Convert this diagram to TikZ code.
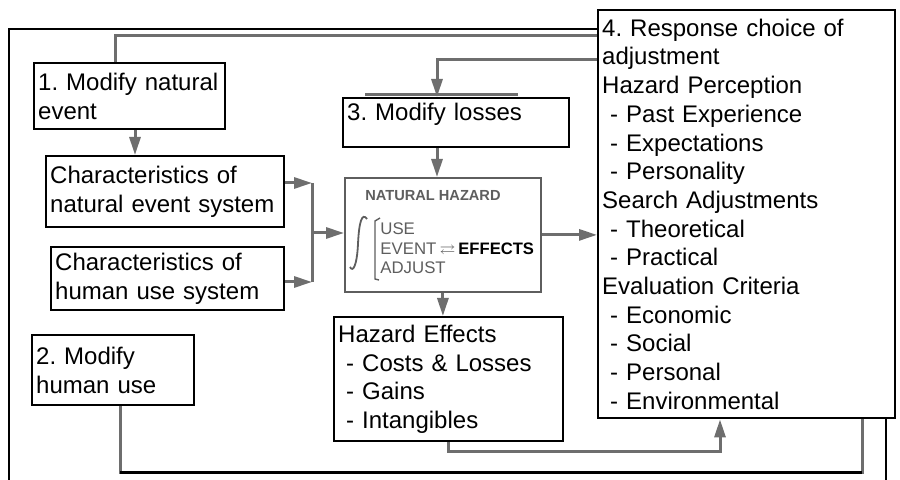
\documentclass[tikz,border=0pt]{standalone}
\usepackage{amssymb}
\usepackage{fontspec}
\setmainfont{Liberation Sans}
\usetikzlibrary{arrows.meta,calc}
\definecolor{linkgray}{HTML}{6E6E6E}
\definecolor{hazgray}{HTML}{5E5E5E}
\newcommand\boxfont{\fontsize{12}{14.35}\selectfont\frenchspacing\hyphenpenalty=10000\relax}
\tikzset{
  box/.style={draw, line width=1.2pt, fill=white, anchor=north west, align=left,
    inner xsep=2pt, inner ysep=1.5pt, font=\boxfont},
  link/.style={draw=linkgray, line width=1.5pt},
  arrow/.style={link, -{Triangle[length=9pt,width=5.5pt]}},
  frame/.style={line width=1pt},
  haz/.style={text=hazgray, inner sep=0pt, font=\fontsize{8.4}{9.5}\selectfont}
}
\begin{document}
\begin{tikzpicture}[x=0.5pt,y=-0.5pt]
\useasboundingbox (0,0) rectangle (900,480);
% outer frame
\draw[frame] (9,480) -- (9,29) -- (886,29) -- (886,480);
% boxes
\node[box, text width=91.5pt, minimum height=33pt] (m1) at (33,62) {1. Modify natural\\event};
\node[box, text width=115pt, minimum height=35.5pt] (cn) at (45,155) {Characteristics of\\natural event system};
\node[box, text width=112.5pt, minimum height=31.5pt] (ch) at (50,246) {Characteristics of\\human use system};
\node[box, text width=77pt, minimum height=35pt] (m2) at (31,334) {2. Modify\\human use};
\node[box, text width=109pt, text height=8.8pt, text depth=11.3pt, inner ysep=2.2pt] (m3) at (342,97) {3. Modify losses};
\node[box, draw=hazgray, line width=0.9pt, minimum width=98pt, minimum height=57pt] (nh) at (344,177) {};
\node[box, text width=110.5pt, minimum height=62pt] (he) at (333,316)
  {Hazard Effects\\\ - Costs \& Losses\\\ - Gains\\\ - Intangibles};
\node[box, text width=144.5pt, minimum height=204pt] (b4) at (597,9)
  {4. Response choice of\\adjustment\\Hazard Perception\\\ - Past Experience\\\ - Expectations\\\ - Personality\\Search Adjustments\\\ - Theoretical\\\ - Practical\\Evaluation Criteria\\\ - Economic\\\ - Social\\\ - Personal\\\ - Environmental};
% natural hazard contents
\node[haz, font=\bfseries\fontsize{7.3}{9}\selectfont] (nhtitle) at (433,196) {NATURAL HAZARD};
\node[haz, anchor=base west] (use) at (380,235) {USE};
\node[haz, anchor=base west] (event) at (380,255) {EVENT};
\node[haz, anchor=base west] (adjust) at (380,274) {ADJUST};
\node[haz, anchor=base west, font=\scriptsize] (inter) at (event.base east) {\,$\rightleftarrows$};
\node[anchor=base west, inner sep=0pt, font=\bfseries\fontsize{8.3}{9}\selectfont] (effects) at (458,255) {EFFECTS};
\draw[hazgray, line width=0.9pt] (350,267) .. controls (353,273) and (357,265) .. (358,244)
  .. controls (359,222) and (362,212) .. (367,219);
\draw[hazgray, line width=0.7pt] (380,218) -- (375,221) -- (375,279) -- (379,280);
% connectors
\coordinate (t1) at (115,36);
\coordinate (t2) at (437,60);
\coordinate (c1) at (135,0);
\coordinate (jt) at (312,183);
\coordinate (jn) at (312,233);
\coordinate (jb) at (312,282);
\coordinate (hr) at (720,452);
\coordinate (ll) at (120,473);
\coordinate (lr) at (862,473);
\draw[link] (t1 -| b4.west) -- (t1) -- (t1 |- m1.north);
\draw[arrow] (t2 -| b4.west) -- (t2) -- (t2 |- m3.north);
\draw[link] (365,95) -- (518,95);
\draw[arrow] (c1 |- m1.south) -- (c1 |- cn.north);
\draw[arrow] (jt -| cn.east) -- (jt);
\draw[arrow] (jb -| ch.east) -- (jb);
\draw[link] (jt) -- (jb);
\draw[arrow] (jn) -- (jn -| nh.west);
\draw[arrow] (t2 |- m3.south) -- (t2 |- nh.north);
\draw[arrow] (nh.east) -- (nh.east -| b4.west);
\draw[arrow] (nh.south) -- (nh.south |- he.north);
\draw[arrow] (he.south) |- (hr) -- (hr |- b4.south);
\draw[link] (ll |- m2.south) -- (ll) -- (lr) -- (lr |- b4.south);
\draw[line width=1.5pt] (ll) -- (lr);
\end{tikzpicture}
\end{document}
